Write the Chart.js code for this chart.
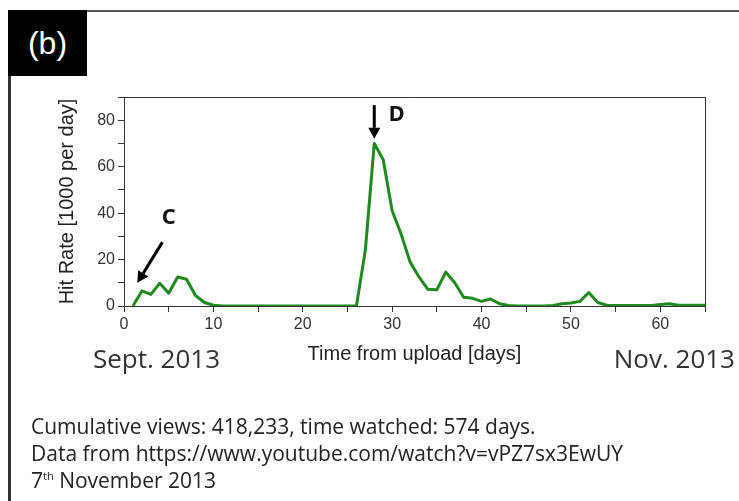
<!DOCTYPE html>
<html>
<head>
<meta charset="utf-8">
<title>Hit rate (b)</title>
<script src="https://cdn.jsdelivr.net/npm/chart.js@4/dist/chart.umd.min.js"></script>
<style>
  body { margin: 0; background: #fff; }
  #wrap { position: relative; width: 739px; height: 501px; overflow: hidden; font-family: "Open Sans", sans-serif; color: #222; }
  #frame { position: absolute; left: 8px; top: 10px; width: 740px; height: 500px; border-left: 3px solid #333; border-top: 2px solid #555; }
  #tag { position: absolute; left: 8px; top: 10px; width: 79px; height: 66px; background: #000; color: #fff;
         font: 32px "Liberation Sans", Arial, sans-serif; line-height: 66px; text-align: center; }
  .month { position: absolute; top: 342px; font-size: 26px; line-height: 32px; color: #333; }
  #notes { position: absolute; left: 31px; top: 413px; font-size: 21px; line-height: 27px; color: #222; }
  #notes sup { font-size: 11px; vertical-align: 8px; line-height: 0; }
  canvas { position: absolute; left: 0; top: 0; }
</style>
</head>
<body>
<div id="wrap">
  <div id="frame"></div>
  <div id="tag">(b)</div>
  <canvas id="chart" width="739" height="501"></canvas>
  <div class="month" style="left:93px">Sept. 2013</div>
  <div class="month" style="right:4px">Nov. 2013</div>
  <div id="notes">
    Cumulative views: 418,233, time watched: 574 days.<br>
    Data from https://www.youtube.com/watch?v=vPZ7sx3EwUY<br>
    7<sup>th</sup> November 2013
  </div>
</div>
<script>
// days since upload and hit rate (1000 per day)
const days = [1, 2, 3, 4, 5, 6, 7, 8, 9, 10,
  11, 12, 13, 14, 15, 16, 17, 18, 19, 20,
  21, 22, 23, 24, 25, 26, 27, 28, 29, 30,
  31, 32, 33, 34, 35, 36, 37, 38, 39, 40,
  41, 42, 43, 44, 45, 46, 47, 48, 49, 50,
  51, 52, 53, 54, 55, 56, 57, 58, 59, 60,
  61, 62, 63, 64, 65];
const hitRate = [0, 6.5, 5, 9.8, 5.5, 12.5, 11.5, 4.5, 1.5, 0.3,
  0, 0, 0, 0, 0, 0, 0, 0, 0, 0,
  0, 0, 0, 0, 0, 0, 24, 70, 63, 41,
  31, 19, 12.5, 7.2, 7, 14.6, 10, 3.8, 3.3, 2,
  3, 1, 0.2, 0, 0, 0, 0, 0.2, 1, 1.3,
  2, 5.8, 1.5, 0.3, 0.2, 0.2, 0.2, 0.2, 0.2, 0.6,
  1, 0.3, 0.3, 0.3, 0.3];

const xTickLabels = [0, 10, 20, 30, 40, 50, 60];
const yTickLabels = [0, 20, 40, 60, 80];

// letters with arrows, in data units (day, hit rate)
const notes = [
  { text: 'C', tx: 5, ty: 38, fromX: 4.3, fromY: 27.5, toX: 1.5, toY: 10 },
  { text: 'D', tx: 30.5, ty: 82.5, fromX: 28, fromY: 86.5, toX: 28, toY: 72 }
];

const tickFont = { family: '"Liberation Sans", Arial, sans-serif', size: 16 };
const titleFont = { family: '"Liberation Sans", Arial, sans-serif', size: 20 };

// top/right edges of the plot box plus the C and D markers
const annotate = {
  id: 'annotate',
  afterDatasetsDraw(chart) {
    const { ctx, chartArea: a, scales: { x, y } } = chart;
    ctx.save();
    ctx.strokeStyle = '#333';
    ctx.lineWidth = 1;
    ctx.beginPath();
    ctx.moveTo(a.left, a.top + 0.5);
    ctx.lineTo(a.right + 0.5, a.top + 0.5);
    ctx.lineTo(a.right + 0.5, a.bottom);
    ctx.stroke();

    notes.forEach(n => {
      const x1 = x.getPixelForValue(n.fromX), y1 = y.getPixelForValue(n.fromY);
      const x2 = x.getPixelForValue(n.toX), y2 = y.getPixelForValue(n.toY);
      const ang = Math.atan2(y2 - y1, x2 - x1);
      const head = 11, half = 6;
      const bx = x2 - head * Math.cos(ang), by = y2 - head * Math.sin(ang);
      ctx.strokeStyle = '#000';
      ctx.fillStyle = '#000';
      ctx.lineWidth = 3;
      ctx.beginPath();
      ctx.moveTo(x1, y1);
      ctx.lineTo(bx, by);
      ctx.stroke();
      ctx.beginPath();
      ctx.moveTo(x2, y2);
      ctx.lineTo(bx + half * Math.sin(ang), by - half * Math.cos(ang));
      ctx.lineTo(bx - half * Math.sin(ang), by + half * Math.cos(ang));
      ctx.closePath();
      ctx.fill();

      ctx.fillStyle = '#111';
      ctx.font = 'bold 22px "Open Sans", sans-serif';
      ctx.textAlign = 'center';
      ctx.textBaseline = 'middle';
      ctx.fillText(n.text, x.getPixelForValue(n.tx), y.getPixelForValue(n.ty));
    });
    ctx.restore();
  }
};

new Chart(document.getElementById('chart'), {
  type: 'line',
  data: {
    datasets: [{
      data: days.map((d, i) => ({ x: d, y: hitRate[i] })),
      borderColor: '#1e8a1e',
      borderWidth: 3,
      borderJoinStyle: 'round',
      pointRadius: 0,
      tension: 0
    }]
  },
  options: {
    responsive: false,
    animation: false,
    devicePixelRatio: 1,
    layout: { padding: { left: 0, top: 97, right: 34, bottom: 135 } },
    plugins: { legend: { display: false }, tooltip: { enabled: false } },
    scales: {
      x: {
        type: 'linear',
        min: 0,
        max: 65,
        afterFit: s => { s.height = 60; },
        ticks: {
          stepSize: 5,
          autoSkip: false,
          maxRotation: 0,
          padding: 3,
          color: '#333',
          font: tickFont,
          callback: v => xTickLabels.includes(v) ? String(v) : ''
        },
        grid: { drawOnChartArea: false, tickLength: 6, color: '#333' },
        border: { color: '#333', width: 1 },
        title: { display: true, text: 'Time from upload [days]', color: '#222', font: titleFont, padding: { top: 0, bottom: 0 } }
      },
      y: {
        min: 0,
        max: 90,
        afterFit: s => { s.width = 124; },
        ticks: {
          stepSize: 10,
          autoSkip: false,
          padding: 3,
          color: '#333',
          font: tickFont,
          callback: v => yTickLabels.includes(v) ? String(v) : ''
        },
        grid: { drawOnChartArea: false, tickLength: 6, color: '#333' },
        border: { color: '#333', width: 1 },
        title: { display: true, text: 'Hit Rate [1000 per day]', color: '#222', font: titleFont, padding: { top: 55, bottom: 0 } }
      }
    }
  },
  plugins: [annotate]
});
</script>
</body>
</html>
